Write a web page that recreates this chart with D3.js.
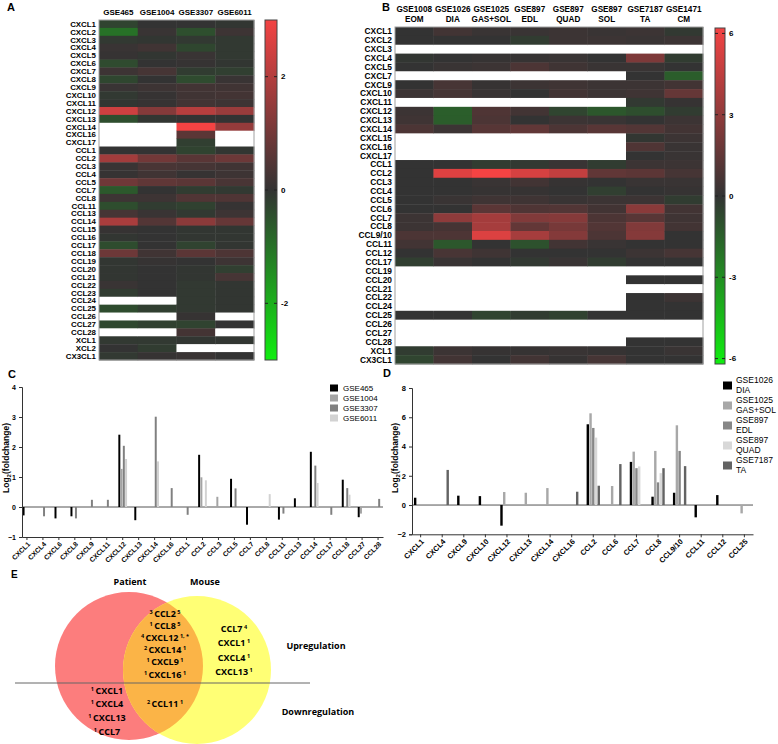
<!DOCTYPE html>
<html>
<head>
<meta charset="UTF-8">
<style>
  body { margin: 0; background: #fff; }
  svg { display: block; font-family: "Liberation Sans", Arial, sans-serif; }
</style>
</head>
<body>
<svg></svg>
<script src="https://d3js.org/d3.v7.min.js"></script>
<script>

// ---------- data: heatmap A (one array per dataset, rows follow rowsA) ----------
const rowsA = ["CXCL1","CXCL2","CXCL3","CXCL4","CXCL5","CXCL6","CXCL7","CXCL8","CXCL9","CXCL10","CXCL11","CXCL12","CXCL13","CXCL14","CXCL16","CXCL17",
  "CCL1","CCL2","CCL3","CCL4","CCL5","CCL7","CCL8","CCL11","CCL13","CCL14","CCL15","CCL16","CCL17","CCL18","CCL19","CCL20","CCL21","CCL22","CCL23","CCL24","CCL25","CCL26","CCL27","CCL28",
  "XCL1","XCL2","CX3CL1"];
const colsA = ["GSE465","GSE1004","GSE3307","GSE6011"];
const a465  = [-0.28,-1.0,-0.1,0.1,0.05,-0.38,0.15,-0.31,0.1,-0.1,-0.05,2.41,-0.44,null,null,null,0,1.74,0.1,0.05,0.94,-0.59,0.15,-0.42,0.29,1.84,0.05,-0.05,-0.4,0.91,-0.05,-0.05,-0.05,0.1,-0.15,null,-0.4,null,-0.34,null,-0.1,0,-0.1];
const a1004 = [0,0.1,-0.05,0.2,-0.05,0,0.3,0,0.15,0.05,0.05,1.27,-0.05,null,null,null,0,0.99,0.34,0.2,0.7,0,0.15,-0.15,0.1,0.5,0,0,0,0.2,0.05,0,0,0,0,null,-0.2,null,-0.22,null,-0.1,-0.15,0.05];
const a3307 = [0,-0.45,-0.1,-0.31,0.1,0.05,-0.15,-0.38,0.24,0.2,0.24,2.04,0,3.01,0.63,-0.2,-0.26,0.6,0.3,0.05,0.62,-0.15,0.45,-0.22,-0.1,1.38,-0.05,-0.05,-0.26,0.63,0,-0.05,-0.05,-0.1,-0.1,-0.1,-0.1,0.05,-0.25,0.27,-0.05,null,0.1];
const a6011 = [-0.05,0.15,-0.1,-0.1,-0.1,-0.05,-0.2,0.1,0.2,0.25,0.15,1.6,0,1.52,null,null,-0.05,0.89,0.2,0.15,0.35,-0.1,0.43,0.05,0.15,0.8,-0.05,-0.05,-0.05,0.41,0.15,-0.2,0.3,-0.05,-0.05,-0.05,-0.05,null,0,null,-0.05,null,0];
const ticksA = [2, 0, -2];

// ---------- data: heatmap B ----------
const rowsB = ["CXCL1","CXCL2","CXCL3","CXCL4","CXCL5","CXCL7","CXCL9","CXCL10","CXCL11","CXCL12","CXCL13","CXCL14","CXCL15","CXCL16","CXCL17",
  "CCL1","CCL2","CCL3","CCL4","CCL5","CCL6","CCL7","CCL8","CCL9/10","CCL11","CCL12","CCL17","CCL19","CCL20","CCL21","CCL22","CCL24","CCL25","CCL26","CCL27","CCL28",
  "XCL1","CX3CL1"];
const colsB = ["GSE1008","GSE1026","GSE1025","GSE897","GSE897","GSE897","GSE7187","GSE1471"];
const tissuesB = ["EOM","DIA","GAS+SOL","EDL","QUAD","SOL","TA","CM"];
const n = null;
const bEOM  = [0,0,n,-0.1,0,n,0,0.3,n,0.3,0.4,0.8,n,n,n,0,0,0,0,0,0,0.3,0.3,0.8,0.5,0,-0.4,n,n,n,n,n,0,n,n,n,-0.3,-0.6];
const bDIA  = [0.5,0,n,0,0.2,n,0.64,0.61,n,-1.41,-1.4,0.3,n,n,n,0,5.52,0,0,0.2,0,2.95,0.57,0.84,-1.2,0.68,0.2,n,n,n,n,n,0,n,n,n,0.3,0.5];
const bGAS  = [0.2,0,n,0.1,0.3,n,0.1,0.2,n,0.89,0.8,1.16,n,n,n,-0.3,6.27,0.2,0.1,0.4,1.3,3.65,3.7,5.45,0,0.4,0,n,n,n,n,n,-0.57,n,n,n,0.1,0];
const bEDL  = [0.2,-0.3,n,0.1,0.8,n,0.3,0,n,0.5,0,1.5,n,n,n,-0.2,5.27,0.5,0.1,0.4,0.9,2.52,1.55,3.7,-1.0,0,-0.2,n,n,n,n,n,-0.3,n,n,n,0.1,0.5];
const bQUAD = [0.3,0.3,n,0.2,0.4,n,0.4,0.5,n,-0.6,0.3,0.8,n,n,n,0.2,4.61,0.1,0,0.2,1.0,2.64,2.18,2.6,0.5,0,0.2,n,n,n,n,n,-0.5,n,n,n,0.2,0.1];
const bSOL  = [0.2,0.3,n,0,0.2,n,0.3,0.3,n,-1.2,0.2,1.2,n,n,n,-0.3,1.5,0,-0.4,0.3,0.5,0.8,1.0,0.8,0.2,0,-0.3,n,n,n,n,n,0,n,n,n,0.1,0.6];
const bTA   = [0.3,0.2,n,2.4,0.2,0,0.3,0.4,-0.2,-0.9,0,1.0,-0.1,0.91,0,0.3,1.32,0.2,0,0.3,2.8,1.2,2.52,2.66,0,0.3,0,n,0,n,0,0,0,n,n,0,0,0];
const bCM   = [-0.2,0.3,n,-0.3,0,-1.4,0.5,1.6,0.1,-0.3,0.3,0.5,0.3,0.2,0.2,0.3,0.6,0.2,0.1,-0.3,0.5,0.4,0.5,0,0,0.6,0,n,0,n,0.3,0,0,n,n,0,0.2,0];
const ticksB = [6, 3, 0, -3, -6];

// ---------- data: bar chart C ----------
const genesC = ["CXCL1","CXCL4","CXCL6","CXCL8","CXCL9","CXCL11","CXCL12","CXCL13","CXCL14","CXCL16","CCL1","CCL2","CCL3","CCL5","CCL7","CCL8","CCL11","CCL13","CCL14","CCL17","CCL18","CCL27","CCL28"];
const seriesC = ["GSE465","GSE1004","GSE3307","GSE6011"];
const c465  = [-0.28,n,-0.38,-0.31,n,n,2.41,-0.44,n,n,n,1.74,n,0.94,-0.59,n,-0.42,0.29,1.84,n,0.91,-0.34,n];
const c1004 = [n,n,n,n,n,n,1.27,n,n,n,n,0.99,0.34,n,n,n,n,n,n,n,n,-0.22,n];
const c3307 = [n,-0.31,n,-0.38,0.24,0.24,2.04,n,3.01,0.63,-0.26,n,n,0.62,n,n,-0.22,n,1.38,-0.26,0.63,n,0.27];
const c6011 = [n,n,n,n,n,n,1.6,n,1.52,n,n,0.89,n,n,n,0.43,n,n,0.8,n,0.41,n,n];
const ticksC = [-1, 0, 1, 2, 3, 4];

// ---------- data: bar chart D ----------
const genesD = ["CXCL1","CXCL4","CXCL9","CXCL10","CXCL12","CXCL13","CXCL14","CXCL16","CCL2","CCL6","CCL7","CCL8","CCL9/10","CCL11","CCL12","CCL25"];
const seriesD = ["GSE1026","GSE1025","GSE897","GSE897","GSE7187"];
const tissuesD = ["DIA","GAS+SOL","EDL","QUAD","TA"];
const dDIA  = [0.5,n,0.64,0.61,-1.41,n,n,n,5.52,n,2.95,0.57,0.84,-0.84,0.68,n];
const dGAS  = [n,n,n,n,0.89,0.84,1.16,n,6.27,1.3,3.65,3.7,5.45,n,n,-0.57];
const dEDL  = [n,n,n,n,n,n,n,n,5.27,n,2.52,1.55,3.7,n,n,n];
const dQUAD = [n,n,n,n,n,n,n,n,4.61,n,2.64,2.18,n,n,n,n];
const dTA   = [n,2.4,n,n,n,n,n,0.91,1.32,2.8,n,2.52,2.66,n,n,n];
const ticksD = [-2, 0, 2, 4, 6, 8];

// ---------- data: Venn E  [superscript before, gene, superscript after] ----------
const vennSharedUp   = [["3","CCL2","5"],["1","CCL8","5"],["4","CXCL12","1, *"],["2","CXCL14","1"],["1","CXCL9","1"],["1","CXCL16","1"]];
const vennMouseUp    = [["","CCL7","4"],["","CXCL1","1"],["","CXCL4","1"],["","CXCL13","1"]];
const vennPatientDown = [["1","CXCL1",""],["1","CXCL4",""],["1","CXCL13",""],["1","CCL7",""]];
const vennSharedDown = [["2","CCL11","1"]];

// ---------- drawing ----------
const W = 778, H = 744;
const FONT = '"Liberation Sans", Arial, sans-serif';
const svg = d3.select("svg").attr("width", W).attr("height", H);
svg.append("rect").attr("width", W).attr("height", H).attr("fill", "#fff");
const defs = svg.append("defs");

function letter(t, x, y, size) {
  svg.append("text").attr("x", x).attr("y", y)
    .attr("font-size", size).attr("font-weight", "bold").text(t);
}

function heatmap(rows, cols, xRange, yRange, color, labelX, labelFont) {
  const g = svg.append("g");
  const x = d3.scaleBand().domain(d3.range(cols.length)).range(xRange);
  const y = d3.scaleBand().domain(rows).range(yRange);
  const cells = cols.flatMap((col, i) => rows.map((r, j) => ({i: i, r: r, v: col[j]})));
  g.selectAll("rect.cell").data(cells).join("rect")
    .attr("class", "cell")
    .attr("x", d => x(d.i)).attr("y", d => y(d.r))
    .attr("width", x.bandwidth() + 0.4).attr("height", y.bandwidth() + 0.4)
    .attr("fill", d => d.v == null ? "#fff" : color(d.v));
  g.append("rect")
    .attr("x", xRange[0]).attr("y", yRange[0])
    .attr("width", xRange[1] - xRange[0]).attr("height", yRange[1] - yRange[0])
    .attr("fill", "none").attr("stroke", "#a0a0a0");
  g.selectAll("text.row").data(rows).join("text")
    .attr("class", "row")
    .attr("x", labelX).attr("y", d => y(d) + y.bandwidth() / 2).attr("dy", "0.35em")
    .attr("text-anchor", "end").attr("font-size", labelFont).attr("font-weight", "bold")
    .text(d => d);
  return x;
}

function colorBar(id, x0, y0, w, h, color, ticks, labelX) {
  const dom = d3.extent(color.domain());
  const grad = defs.append("linearGradient").attr("id", id)
    .attr("x1", 0).attr("y1", 1).attr("x2", 0).attr("y2", 0);
  color.domain().forEach(v => grad.append("stop")
    .attr("offset", (v - dom[0]) / (dom[1] - dom[0]))
    .attr("stop-color", color(v)));
  svg.append("rect").attr("x", x0).attr("y", y0).attr("width", w).attr("height", h)
    .attr("fill", "url(#" + id + ")").attr("stroke", "#444");
  const y = d3.scaleLinear().domain(dom).range([y0 + h, y0]);
  const t = svg.append("g").selectAll("g").data(ticks).join("g");
  t.append("line").attr("x1", x0).attr("x2", x0 + 3).attr("y1", d => y(d)).attr("y2", d => y(d)).attr("stroke", "#222");
  t.append("line").attr("x1", x0 + w - 3).attr("x2", x0 + w).attr("y1", d => y(d)).attr("y2", d => y(d)).attr("stroke", "#222");
  t.append("text").attr("x", labelX).attr("y", d => y(d)).attr("dy", "0.35em")
    .attr("font-size", 8).attr("font-weight", "bold").text(d => d);
}

// ---- A ----
letter("A", 7, 11, 11);
const colorA = d3.scaleLinear().domain([-3, 0, 3]).range(["#10ee10", "#333333", "#f34343"]);
const xA = heatmap(rowsA, [a465, a1004, a3307, a6011], [99, 254], [20, 360], colorA, 96, 7.9);
svg.append("g").selectAll("text").data(colsA).join("text")
  .attr("x", (d, i) => xA(i) + xA.bandwidth() / 2).attr("y", 15)
  .attr("text-anchor", "middle").attr("font-size", 8).attr("font-weight", "bold")
  .text(d => d);
colorBar("gradA", 265, 20, 12, 340, colorA, ticksA, 281);

// ---- B ----
letter("B", 382, 11, 11);
const colorB = d3.scaleLinear().domain([-6.2, 0, 6.2]).range(["#10ee10", "#333333", "#f34343"]);
const xB = heatmap(rowsB, [bEOM, bDIA, bGAS, bEDL, bQUAD, bSOL, bTA, bCM], [395, 703], [27, 364], colorB, 392, 8.4);
const hB = svg.append("g").selectAll("text").data(colsB).join("text")
  .attr("text-anchor", "middle").attr("font-size", 8.2).attr("font-weight", "bold");
hB.append("tspan").attr("x", (d, i) => xB(i) + xB.bandwidth() / 2).attr("y", 12).text(d => d);
hB.append("tspan").attr("x", (d, i) => xB(i) + xB.bandwidth() / 2).attr("y", 22).text((d, i) => tissuesB[i]);
colorBar("gradB", 715, 28, 10, 336, colorB, ticksB, 729);

// ---- bar charts ----
function barChart(o) {
  const g = svg.append("g");
  const x = d3.scaleBand().domain(o.cats).range(o.xRange).paddingInner(o.padIn).paddingOuter(o.padOut);
  const sub = d3.scaleBand().domain(d3.range(o.series.length)).range([0, x.bandwidth()]).padding(0.12);
  const y = d3.scaleLinear().domain(d3.extent(o.ticks)).range(o.yRange);

  g.append("line").attr("x1", o.xRange[0]).attr("x2", o.xRange[1])
    .attr("y1", y(0)).attr("y2", y(0)).attr("stroke", "#555");

  o.series.forEach((vals, s) => {
    g.append("g").selectAll("rect")
      .data(vals.map((v, i) => ({v: v, c: o.cats[i]})).filter(d => d.v != null))
      .join("rect")
      .attr("x", d => x(d.c) + sub(s)).attr("width", sub.bandwidth())
      .attr("y", d => y(Math.max(0, d.v))).attr("height", d => Math.abs(y(d.v) - y(0)))
      .attr("fill", o.colors[s]);
  });

  const ya = g.append("g").attr("transform", "translate(" + o.xRange[0] + ",0)")
    .call(d3.axisLeft(y).tickValues(o.ticks).tickSize(3).tickFormat(d3.format("d")));
  ya.attr("font-family", FONT).attr("font-size", o.tickFont).attr("font-weight", "bold");

  const xa = g.append("g").attr("transform", "translate(0," + o.yRange[0] + ")")
    .call(d3.axisBottom(x).tickSize(3).tickSizeOuter(0));
  xa.attr("font-family", FONT).attr("font-size", o.catFont).attr("font-weight", "bold");
  xa.selectAll("text")
    .attr("x", 0).attr("y", 0).attr("dy", "0.35em")
    .attr("transform", "translate(2,6) rotate(-45)")
    .attr("text-anchor", "end");
  g.selectAll(".domain, .tick line").attr("stroke", "#333");

  const lab = g.append("text")
    .attr("transform", "translate(" + o.ylabX + "," + o.ylabY + ") rotate(-90)")
    .attr("text-anchor", "middle").attr("font-size", 8.5).attr("font-weight", "bold");
  lab.append("tspan").text("Log");
  lab.append("tspan").attr("font-size", 6).attr("dy", 2).text("2");
  lab.append("tspan").attr("dy", -2).text("(foldchange)");
  return g;
}

// ---- C ----
letter("C", 8, 378, 11);
const colorsC = ["#000000", "#a4a4a4", "#808080", "#d2d2d2"];
barChart({
  cats: genesC, series: [c465, c1004, c3307, c6011], colors: colorsC,
  xRange: [22, 383], yRange: [537, 387], ticks: ticksC,
  padIn: 0.42, padOut: 0.02, tickFont: 7, catFont: 6.8, ylabX: 9, ylabY: 458
});
const legC = svg.append("g").selectAll("g").data(seriesC).join("g")
  .attr("transform", (d, i) => "translate(330," + (388 + i * 10) + ")");
legC.append("rect").attr("x", 0).attr("y", -3.5).attr("width", 8).attr("height", 7).attr("fill", (d, i) => colorsC[i]);
legC.append("text").attr("x", 13).attr("dy", "0.35em").attr("font-size", 8).text(d => d);

// ---- D ----
letter("D", 383, 377, 11);
const colorsD = ["#000000", "#a8a8a8", "#878787", "#d8d8d8", "#636363"];
barChart({
  cats: genesD, series: [dDIA, dGAS, dEDL, dQUAD, dTA], colors: colorsD,
  xRange: [412, 753], yRange: [534.3, 388], ticks: ticksD,
  padIn: 0.35, padOut: 0.075, tickFont: 7.5, catFont: 7.5, ylabX: 398, ylabY: 458
});
const legD = svg.append("g").selectAll("g").data(seriesD).join("g")
  .attr("transform", (d, i) => "translate(723," + (380 + i * 20) + ")");
legD.append("rect").attr("x", 0).attr("y", 1.5).attr("width", 9).attr("height", 8).attr("fill", (d, i) => colorsD[i]);
const tD = legD.append("text").attr("font-size", 8.5);
tD.append("tspan").attr("x", 13).attr("y", 0).attr("dy", "0.35em").text(d => d);
tD.append("tspan").attr("x", 13).attr("y", 10).attr("dy", "0.35em").text((d, i) => tissuesD[i]);

// ---- E: Venn ----
letter("E", 11, 578, 10);
const VF = '"Open Sans", "Liberation Sans", sans-serif';
const venn = svg.append("g").attr("font-family", VF).attr("font-weight", "bold");
defs.append("clipPath").attr("id", "clipRed")
  .append("circle").attr("cx", 129).attr("cy", 666).attr("r", 74);
venn.append("circle").attr("cx", 129).attr("cy", 666).attr("r", 74).attr("fill", "#fc7d7d");
venn.append("circle").attr("cx", 197).attr("cy", 670).attr("r", 74).attr("fill", "#ffff75");
venn.append("circle").attr("cx", 197).attr("cy", 670).attr("r", 74).attr("fill", "#fbb447")
  .attr("clip-path", "url(#clipRed)");
venn.append("line").attr("x1", 15).attr("x2", 310).attr("y1", 683).attr("y2", 683)
  .attr("stroke", "#666").attr("stroke-width", 1);

venn.append("text").attr("x", 130).attr("y", 585).attr("text-anchor", "middle").attr("font-size", 9).text("Patient");
venn.append("text").attr("x", 205).attr("y", 585).attr("text-anchor", "middle").attr("font-size", 9).text("Mouse");
venn.append("text").attr("x", 316).attr("y", 649).attr("text-anchor", "middle").attr("font-size", 9).text("Upregulation");
venn.append("text").attr("x", 318).attr("y", 715).attr("text-anchor", "middle").attr("font-size", 9).text("Downregulation");

function vennList(items, cx, y0, step) {
  items.forEach((it, i) => {
    const t = venn.append("text").attr("x", cx).attr("y", y0 + i * step)
      .attr("text-anchor", "middle").attr("font-size", 9);
    if (it[0]) t.append("tspan").attr("font-size", 5.5).attr("dy", -3).text(it[0]);
    t.append("tspan").attr("dx", it[0] ? 1.5 : 0).attr("dy", it[0] ? 3 : 0).text(it[1]);
    if (it[2]) t.append("tspan").attr("font-size", 5.5).attr("dx", 1.5).attr("dy", -3).text(it[2]);
  });
}
vennList(vennSharedUp, 165, 616.5, 12.2);
vennList(vennMouseUp, 234, 631.5, 14.6);
vennList(vennPatientDown, 107, 693.5, 13.7);
vennList(vennSharedDown, 165, 706.5, 12);

</script>
</body>
</html>
